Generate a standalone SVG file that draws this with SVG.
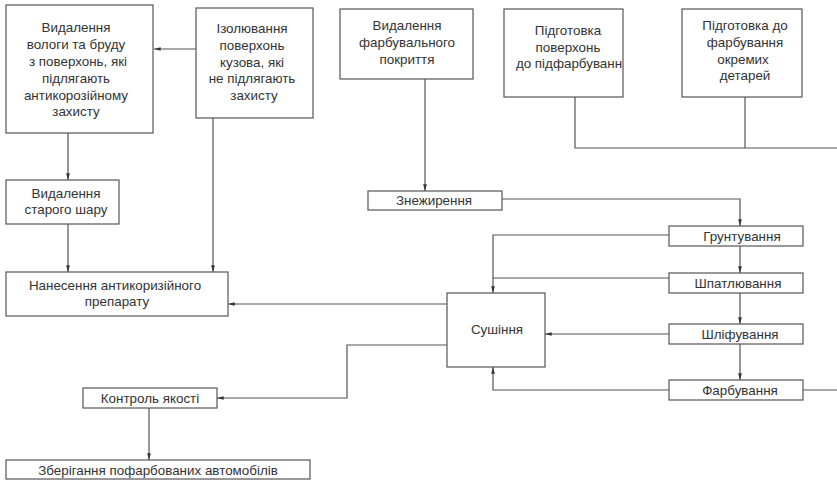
<svg xmlns="http://www.w3.org/2000/svg" width="837" height="480" viewBox="0 0 837 480">
  <style>
    .box { fill: #fff; stroke: #555; stroke-width: 1.2; }
    .lbl { font-family: "Liberation Sans", Arial, sans-serif; font-size: 13.4px; fill: #333; text-anchor: middle; dominant-baseline: central; }
    .wire { fill: none; stroke: #555; stroke-width: 1.2; }
    .arr { marker-end: url(#tip); }
  </style>
  <defs>
    <marker id="tip" viewBox="0 0 8 6" refX="8" refY="3" markerWidth="7" markerHeight="5" markerUnits="userSpaceOnUse" orient="auto">
      <path d="M0,0.8 L8,3 L0,5.2 Z" fill="#333"/>
    </marker>
  </defs>

  <rect width="837" height="480" fill="#fff"/>

  <!-- connectors -->
  <g id="connectors">
    <path class="wire arr" d="M196,49 H154"/>
    <path class="wire arr" d="M68,133 V180"/>
    <path class="wire arr" d="M68,224 V272"/>
    <path class="wire arr" d="M213,118 V272"/>
    <path class="wire arr" d="M425,79 V191"/>
    <path class="wire" d="M575,97 V148 H837"/>
    <path class="wire" d="M745,97 V148"/>
    <path class="wire arr" d="M502,199 H740 V226"/>
    <path class="wire arr" d="M740,246 V273"/>
    <path class="wire arr" d="M740,293 V324"/>
    <path class="wire arr" d="M740,344 V380"/>
    <path class="wire arr" d="M669,235 H493 V293"/>
    <path class="wire" d="M669,278 H493"/>
    <path class="wire arr" d="M669,334 H545"/>
    <path class="wire arr" d="M669,390 H493 V367"/>
    <path class="wire" d="M803,390 H837"/>
    <path class="wire arr" d="M447,304 H228"/>
    <path class="wire arr" d="M447,345 H347 V398 H217"/>
    <path class="wire arr" d="M149,408 V460"/>
  </g>

  <g id="n-moisture">
    <rect class="box" x="6" y="5" width="147" height="128"/>
    <text class="lbl" x="76" y="27">Видалення</text>
    <text class="lbl" x="76" y="44">вологи та бруду</text>
    <text class="lbl" x="78" y="61">з поверхонь, які</text>
    <text class="lbl" x="76" y="78">підлягають</text>
    <text class="lbl" x="76" y="95">антикорозійному</text>
    <text class="lbl" x="76" y="111">захисту</text>
  </g>

  <g id="n-isolate">
    <rect class="box" x="196" y="8" width="117" height="110"/>
    <text class="lbl" x="252" y="28">Ізолювання</text>
    <text class="lbl" x="252" y="45">поверхонь</text>
    <text class="lbl" x="252" y="62">кузова, які</text>
    <text class="lbl" x="252" y="78">не підлягають</text>
    <text class="lbl" x="254" y="95">захисту</text>
  </g>

  <g id="n-remove-paint">
    <rect class="box" x="340" y="9" width="133" height="70"/>
    <text class="lbl" x="407" y="25">Видалення</text>
    <text class="lbl" x="407" y="42">фарбувального</text>
    <text class="lbl" x="407" y="59">покриття</text>
  </g>

  <g id="n-prep-surface">
    <rect class="box" x="504" y="9" width="119" height="88"/>
    <text class="lbl" x="568" y="30">Підготовка</text>
    <text class="lbl" x="568" y="47">поверхонь</text>
    <text class="lbl" x="569" y="63">до підфарбуванн</text>
  </g>

  <g id="n-prep-parts">
    <rect class="box" x="682" y="9" width="120" height="88"/>
    <text class="lbl" x="745" y="25">Підготовка до</text>
    <text class="lbl" x="745" y="42">фарбування</text>
    <text class="lbl" x="743" y="59">окремих</text>
    <text class="lbl" x="745" y="75">детарей</text>
  </g>

  <g id="n-old-layer">
    <rect class="box" x="6" y="180" width="113" height="44"/>
    <text class="lbl" x="66" y="193">Видалення</text>
    <text class="lbl" x="66" y="209">старого шару</text>
  </g>

  <g id="n-anticorrosion">
    <rect class="box" x="6" y="272" width="222" height="44"/>
    <text class="lbl" x="115" y="285">Нанесення антикоризійного</text>
    <text class="lbl" x="117" y="301">препарату</text>
  </g>

  <g id="n-degrease">
    <rect class="box" x="368" y="191" width="134" height="19"/>
    <text class="lbl" x="434" y="200">Знежирення</text>
  </g>

  <g id="n-prime">
    <rect class="box" x="669" y="226" width="134" height="20"/>
    <text class="lbl" x="742" y="236">Грунтування</text>
  </g>

  <g id="n-putty">
    <rect class="box" x="669" y="273" width="134" height="20"/>
    <text class="lbl" x="738" y="283">Шпатлювання</text>
  </g>

  <g id="n-sand">
    <rect class="box" x="669" y="324" width="134" height="20"/>
    <text class="lbl" x="740" y="334">Шліфування</text>
  </g>

  <g id="n-paint">
    <rect class="box" x="669" y="380" width="134" height="20"/>
    <text class="lbl" x="740" y="390">Фарбування</text>
  </g>

  <g id="n-dry">
    <rect class="box" x="447" y="293" width="98" height="74"/>
    <text class="lbl" x="497" y="329">Сушіння</text>
  </g>

  <g id="n-quality">
    <rect class="box" x="83" y="388" width="134" height="20"/>
    <text class="lbl" x="150" y="398">Контроль якості</text>
  </g>

  <g id="n-storage">
    <rect class="box" x="6" y="460" width="304" height="19"/>
    <text class="lbl" x="158" y="470">Зберігання пофарбованих автомобілів</text>
  </g>
</svg>
